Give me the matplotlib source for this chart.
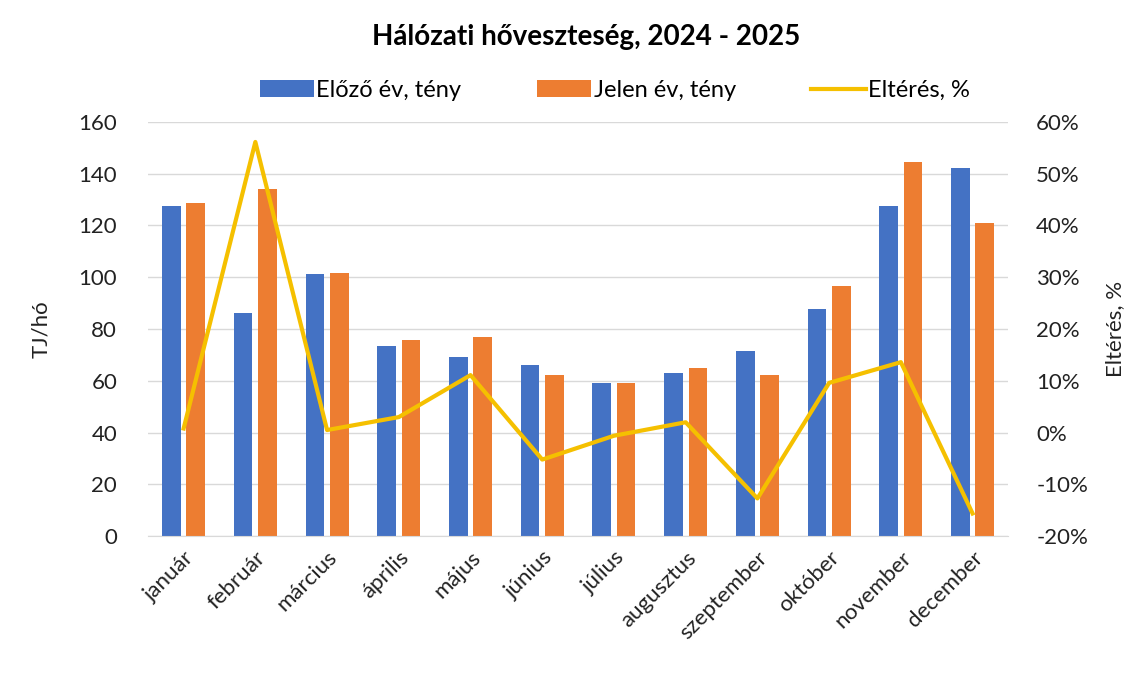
import numpy as np
import matplotlib.pyplot as plt
from matplotlib.ticker import FuncFormatter

# data
months = ['január', 'február', 'március', 'április', 'május', 'június',
          'július', 'augusztus', 'szeptember', 'október', 'november', 'december']
prev_year = [127.5, 86.0, 101.1, 73.4, 69.3, 66.0, 59.2, 63.1, 71.6, 87.6, 127.5, 142.3]
this_year = [128.7, 134.1, 101.6, 75.7, 77.0, 62.2, 59.2, 64.8, 62.2, 96.6, 144.5, 121.0]
diff_pct = [0.8, 56.1, 0.5, 3.0, 11.1, -5.2, -0.6, 2.0, -12.7, 9.6, 13.6, -15.6]

plt.rcParams['font.family'] = ['Lato', 'DejaVu Sans']

fig = plt.figure(figsize=(11.28, 6.84), dpi=100)
ax = fig.add_axes([0.131, 0.216, 0.763, 0.606])
ax2 = ax.twinx()

x = np.arange(len(months))
w = 0.26
b1 = ax.bar(x - 0.17, prev_year, w, color='#4472C4', label='Előző év, tény', zorder=2)
b2 = ax.bar(x + 0.17, this_year, w, color='#ED7D31', label='Jelen év, tény', zorder=2)
ln, = ax2.plot(x, diff_pct, color='#F5C000', lw=3, label='Eltérés, %', zorder=3)

ax.set_xlim(-0.5, len(months) - 0.5)
ax.set_ylim(0, 160)
ax.set_yticks(range(0, 161, 20))
ax2.set_ylim(-20, 60)
ax2.set_yticks(range(-20, 61, 10))
ax2.yaxis.set_major_formatter(FuncFormatter(lambda v, p: '%d%%' % v))

ax.grid(axis='y', color='#D9D9D9', lw=1, zorder=0)
ax.set_axisbelow(True)
for a in (ax, ax2):
    for s in a.spines.values():
        s.set_visible(False)
    a.tick_params(length=0, labelsize=16, colors='#222222')
ax.spines['bottom'].set_visible(True)
ax.spines['bottom'].set_color('#D9D9D9')

ax.set_xticks(x)
ax.set_xticklabels(months, rotation=45, ha='right', rotation_mode='anchor')
ax.tick_params(axis='x', pad=8)
ax.tick_params(axis='y', pad=22)
ax2.tick_params(axis='y', pad=20)

ax.set_ylabel('TJ/hó', fontsize=16, color='#222222', labelpad=20)
ax2.set_ylabel('Eltérés, %', fontsize=16, color='#222222', labelpad=12)

fig.suptitle('Hálózati hőveszteség, 2024 - 2025', x=0.52, y=0.965,
             fontsize=20, fontweight='bold')
fig.legend(handles=[b1, b2, ln], loc='center', bbox_to_anchor=(0.545, 0.868),
           ncol=3, frameon=False, fontsize=17, handlelength=2.3,
           handletextpad=0.1, columnspacing=3.2)

fig.savefig('out.png', dpi=100)
